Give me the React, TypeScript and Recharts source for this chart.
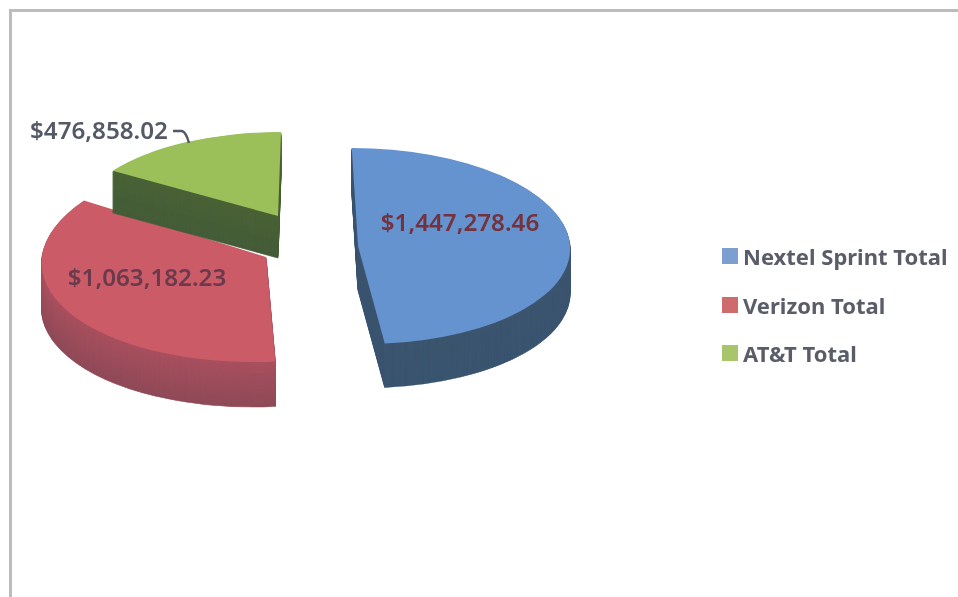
import React from 'react';
import { PieChart, Pie, Sector, Legend } from 'recharts';

const carriers = ['Nextel Sprint Total', 'Verizon Total', 'AT&T Total'];
const totals = [1447278.46, 1063182.23, 476858.02];

const topColors = ['#6593cf', '#cb5c67', '#9bc05a'];
const wallTopColors = ['#3d556f', '#a9505f', '#4a6236'];
const wallBottomColors = ['#3a5570', '#8f4a58', '#445c38'];
const legendColors = ['#7c9fd0', '#cd6b6d', '#a9c56c'];
const labelColors = ['#74323c', '#6a3a4c', '#555965'];

// where each exploded slice ends up on the page (tilted, squashed, lifted)
const sliceLayout = [
  { x: 358, y: 246, rx: 212, ry: 98, shear: 0.063, depth: 44 },
  { x: 266, y: 257, rx: 224, ry: 105, shear: -0.12, depth: 45 },
  { x: 278, y: 216, rx: 198, ry: 84, shear: -0.036, depth: 42 },
];
const labelSpots = [
  { x: 460, y: 231 },
  { x: 147, y: 286 },
  { x: 99, y: 139 },
];

const tableData = carriers.map((name, i) => ({ name, value: totals[i], fill: topColors[i] }));

const money = (v: number) =>
  '$' + v.toLocaleString('en-US', { minimumFractionDigits: 2, maximumFractionDigits: 2 });

const mix = (a: string, b: string, t: number) => {
  const ch = (s: string, p: number) => parseInt(s.slice(p, p + 2), 16);
  const part = (p: number) => Math.round(ch(a, p) + (ch(b, p) - ch(a, p)) * t);
  return `rgb(${part(1)},${part(3)},${part(5)})`;
};

const RADIUS = 100;

const Slice3D = (props: any) => {
  const { cx, cy, startAngle, endAngle, outerRadius } = props;
  const i = carriers.indexOf(props.name ?? props.payload?.name);
  const s = sliceLayout[i];
  const a = s.rx / outerRadius;
  const d = s.ry / outerRadius;
  const c = s.shear * d;
  const place = (lift: number) =>
    `translate(${s.x} ${s.y + lift}) matrix(${a} 0 ${c} ${d} 0 0) translate(${-cx} ${-cy})`;
  const sector = { cx, cy, innerRadius: 0, outerRadius, startAngle, endAngle };
  const walls = [];
  for (let k = s.depth; k >= 1; k--) {
    const col = mix(wallTopColors[i], wallBottomColors[i], k / s.depth);
    walls.push(
      <g key={`wall-${k}`} transform={place(k)}>
        <Sector {...sector} fill={col} stroke={col} strokeWidth={0.5} />
      </g>
    );
  }
  return (
    <g>
      {walls}
      <g transform={place(0)}>
        <Sector {...sector} fill={topColors[i]} stroke="none" />
      </g>
    </g>
  );
};

const SliceLabel = (props: any) => {
  const i = carriers.indexOf(props.name ?? props.payload?.name);
  const spot = labelSpots[i];
  return (
    <g>
      <text
        x={spot.x}
        y={spot.y}
        textAnchor="middle"
        fontFamily="'Noto Sans', sans-serif"
        fontWeight={600}
        fontSize={24.2}
        fill={labelColors[i]}
      >
        {money(totals[i])}
      </text>
      {i === 2 && (
        <path d="M173 131 L182 131 Q186 132 189 143" fill="none" stroke="#555965" strokeWidth={2.4} />
      )}
    </g>
  );
};

const LegendList = () => (
  <div>
    {carriers.map((name, i) => (
      <div key={name} style={{ display: 'flex', alignItems: 'center', height: 48.5 }}>
        <span style={{ width: 16, height: 16, background: legendColors[i], marginRight: 5, flex: 'none' }} />
        <span
          style={{
            fontFamily: "'Noto Sans', sans-serif",
            fontWeight: 700,
            fontSize: 22,
            color: '#5a5c68',
            whiteSpace: 'nowrap',
          }}
        >
          {name}
        </span>
      </div>
    ))}
  </div>
);

export default function App() {
  return (
    <div style={{ position: 'absolute', left: 0, top: 0, width: 958, height: 597, background: '#fff', overflow: 'hidden' }}>
      <div
        style={{
          position: 'absolute',
          left: 9,
          top: 9,
          width: 949,
          height: 588,
          borderTop: '3px solid #bcbcbc',
          borderLeft: '3px solid #bcbcbc',
        }}
      />
      <div style={{ position: 'absolute', left: 0, top: 0, filter: 'blur(0.6px)' }}>
        <PieChart width={958} height={597} margin={{ top: 0, right: 0, bottom: 0, left: 0 }}>
          <Pie
            data={tableData}
            dataKey="value"
            nameKey="name"
            cx={300}
            cy={240}
            outerRadius={RADIUS}
            startAngle={90}
            endAngle={-270}
            stroke="none"
            shape={Slice3D}
            label={SliceLabel}
            labelLine={false}
            isAnimationActive={false}
          />
          <Legend
            content={<LegendList />}
            wrapperStyle={{ position: 'absolute', left: 722, top: 232, width: 236, bottom: 'auto' }}
          />
        </PieChart>
      </div>
    </div>
  );
}
